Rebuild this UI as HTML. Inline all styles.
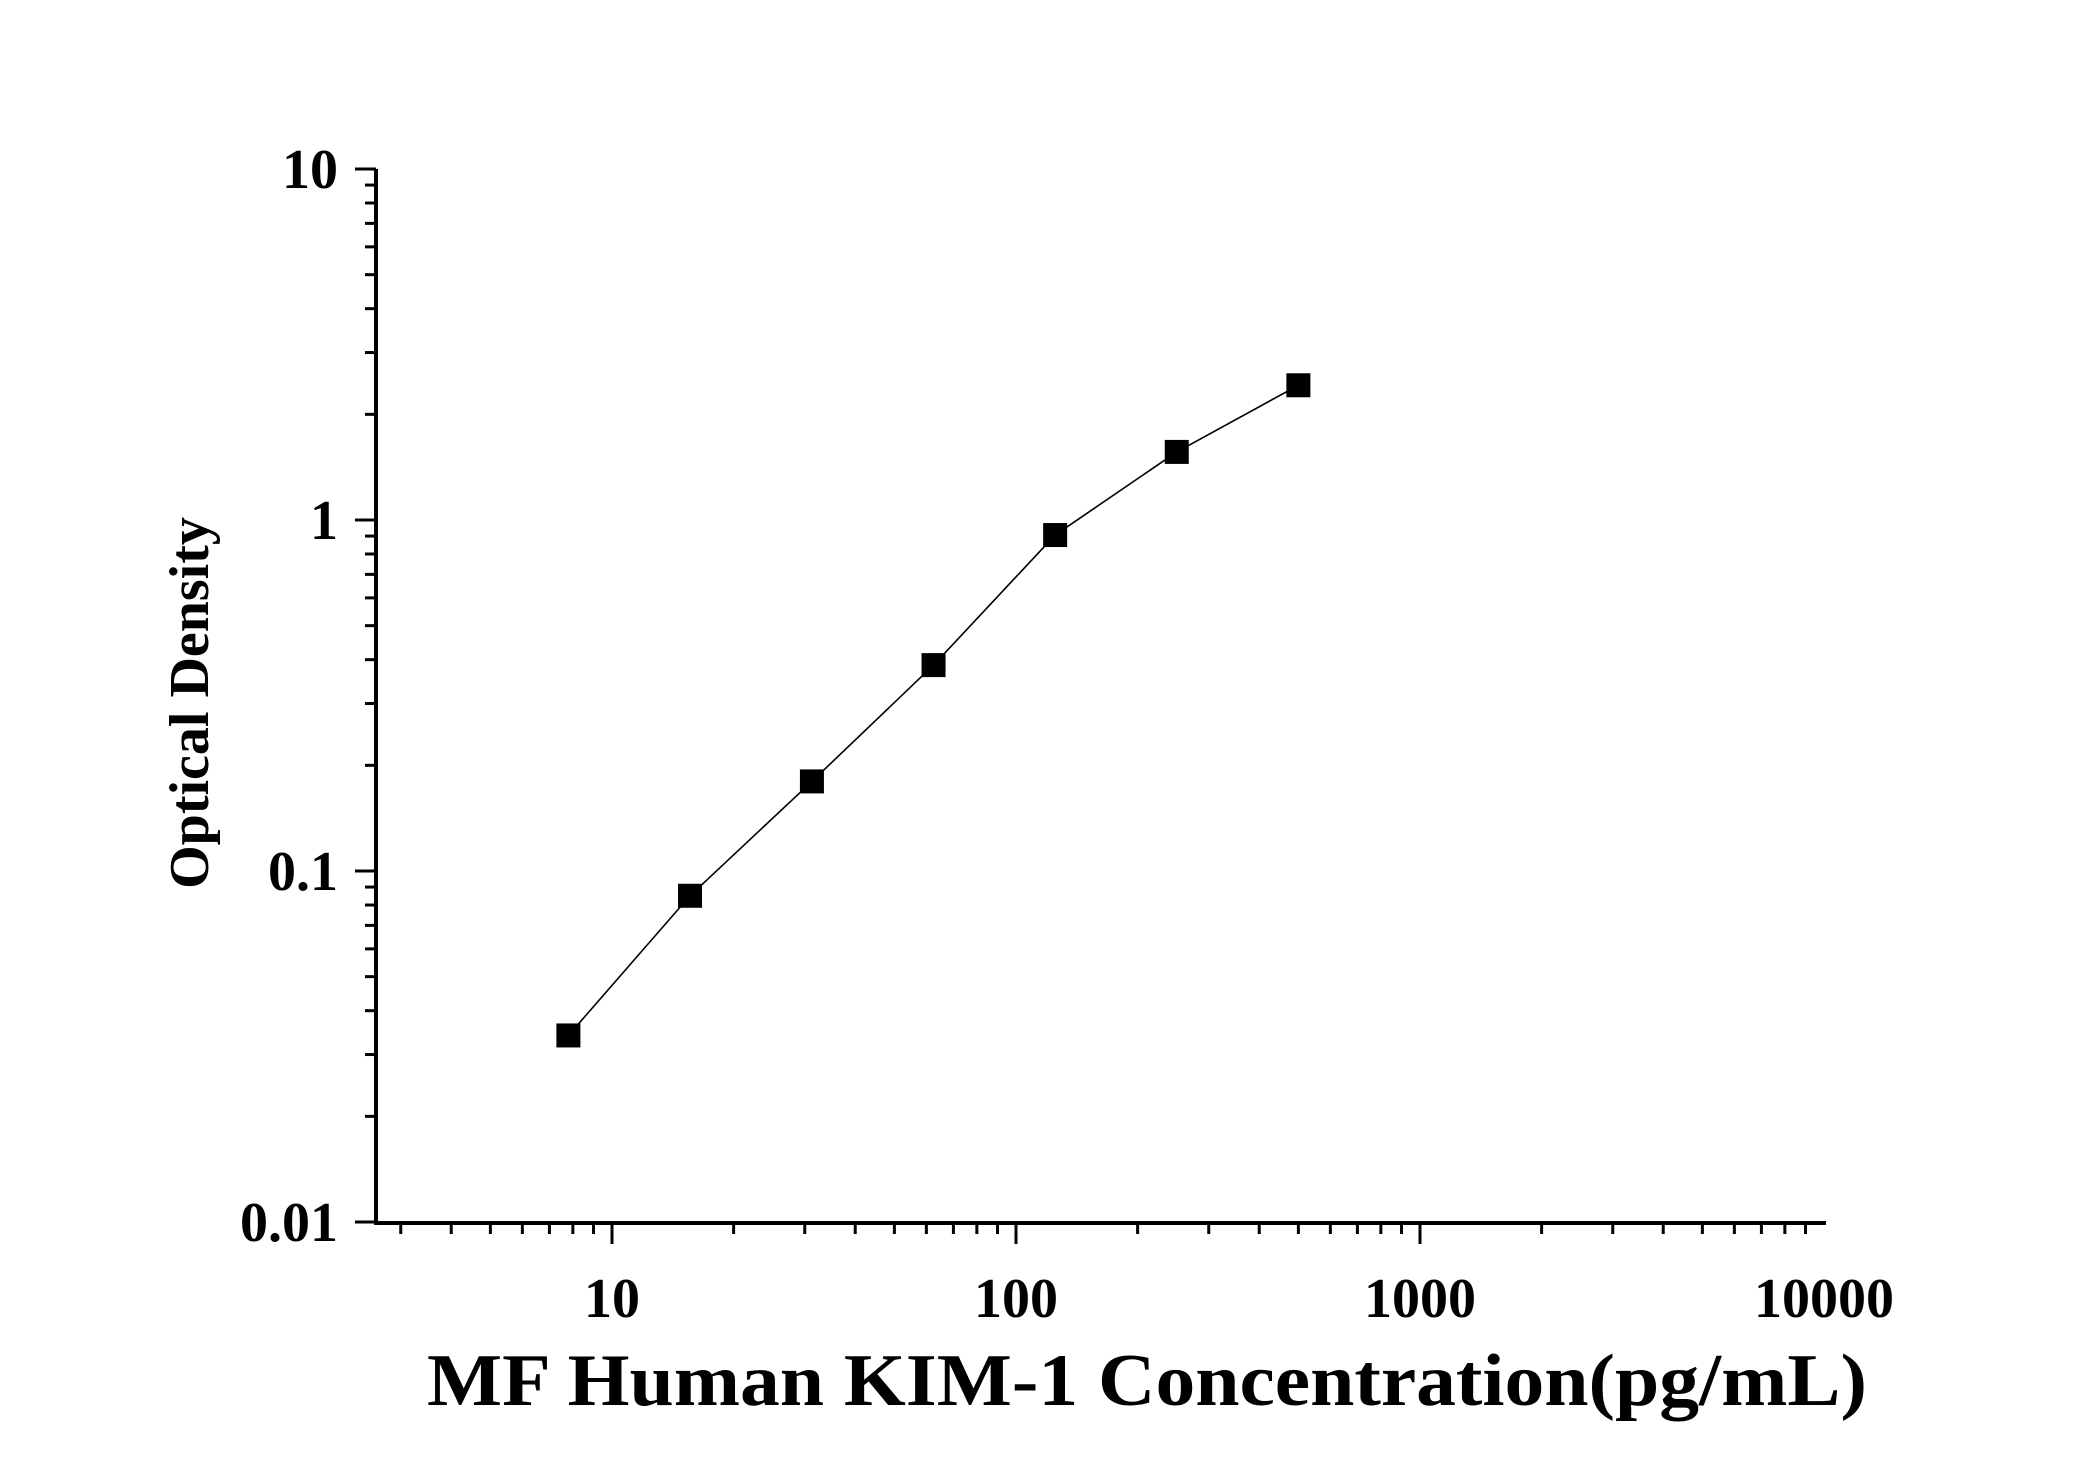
<!DOCTYPE html>
<html><head><meta charset="utf-8"><style>
html,body{margin:0;padding:0;background:#fff;}
svg{display:block;font-family:"Liberation Serif",serif;font-weight:bold;}
</style></head><body>
<svg id="chart" width="2100" height="1467" viewBox="0 0 2100 1467">
<g id="axes"></g>
<g id="series"></g>
<text transform="translate(208,703) rotate(-90)" text-anchor="middle" font-size="56">Optical Density</text>
<text x="1147" y="1405" text-anchor="middle" font-size="74" textLength="1440" lengthAdjust="spacingAndGlyphs">MF Human KIM-1 Concentration(pg/mL)</text>
</svg>
<script>
const concentrations = [7.8, 15.6, 31.25, 62.5, 125, 250, 500];
const odValues = [0.034, 0.085, 0.180, 0.386, 0.906, 1.563, 2.42];
const xTickValues = [10, 100, 1000, 10000];
const xTickLabels = ["10", "100", "1000", "10000"];
const yTickValues = [0.01, 0.1, 1, 10];
const yTickLabels = ["0.01", "0.1", "1", "10"];

const NS = "http://www.w3.org/2000/svg";
const X0 = 376, X10 = 612, XDEC = 404, XMAXV = 10000;
const Y1 = 520, YDEC = 351, YBOT = 1223, YTOP = 169;
function sx(v){ return X10 + (Math.log10(v) - 1) * XDEC; }
function sy(v){ return Y1 - Math.log10(v) * YDEC; }
function mk(tag, attrs, parent){ const e = document.createElementNS(NS, tag); for (const k in attrs) e.setAttribute(k, attrs[k]); parent.appendChild(e); return e; }
const axes = document.getElementById('axes');
const series = document.getElementById('series');
const XEND = sx(XMAXV);

const yAxis = mk('line', {x1:X0, y1:YTOP, x2:X0, y2:YBOT+2, stroke:'#000','stroke-width':4}, axes);


const xAxis = mk('line', {x1:X0-2, y1:YBOT, x2:XEND+2, y2:YBOT, stroke:'#000','stroke-width':4}, axes);



// y ticks
for (let d = -2; d <= 1; d++) {
  for (let m = 1; m <= 9; m++) {
    const v = m * Math.pow(10, d);
    if (v > 10.0001) break;
    const y = sy(v);
    const len = m === 1 ? 21 : 11;
    const t = mk('line', {x1:X0-len, y1:y, x2:X0, y2:y, stroke:'#000','stroke-width':3}, axes);
    
    
  }
}
yTickValues.forEach((v, i) => {
  const t = mk('text', {x:338, y:sy(v)+19, 'text-anchor':'end', 'font-size':56}, axes);
  t.textContent = yTickLabels[i];
  
  
});
// x ticks
for (let d = 0; d <= 3; d++) {
  for (let m = 1; m <= 9; m++) {
    const v = m * Math.pow(10, d);
    if (v > XMAXV + 1) break;
    const x = sx(v);
    if (x < X0 + 2) continue;
    const len = m === 1 ? 21 : 11;
    const t = mk('line', {x1:x, y1:YBOT, x2:x, y2:YBOT+len, stroke:'#000','stroke-width':3}, axes);
    
    
  }
}
xTickValues.forEach((v, i) => {
  const t = mk('text', {x:sx(v), y:1317, 'text-anchor':'middle', 'font-size':56}, axes);
  t.textContent = xTickLabels[i];
  
  
});
// series
const pts = concentrations.map((c, i) => sx(c) + ',' + sy(odValues[i])).join(' ');
const line = mk('polyline', {points:pts, fill:'none', stroke:'#000', 'stroke-width':1.6}, series);


concentrations.forEach((c, i) => {
  const s = 24;
  const r = mk('rect', {x:sx(c)-s/2, y:sy(odValues[i])-s/2, width:s, height:s, fill:'#000'}, series);
  
  
});
</script>
</body></html>
